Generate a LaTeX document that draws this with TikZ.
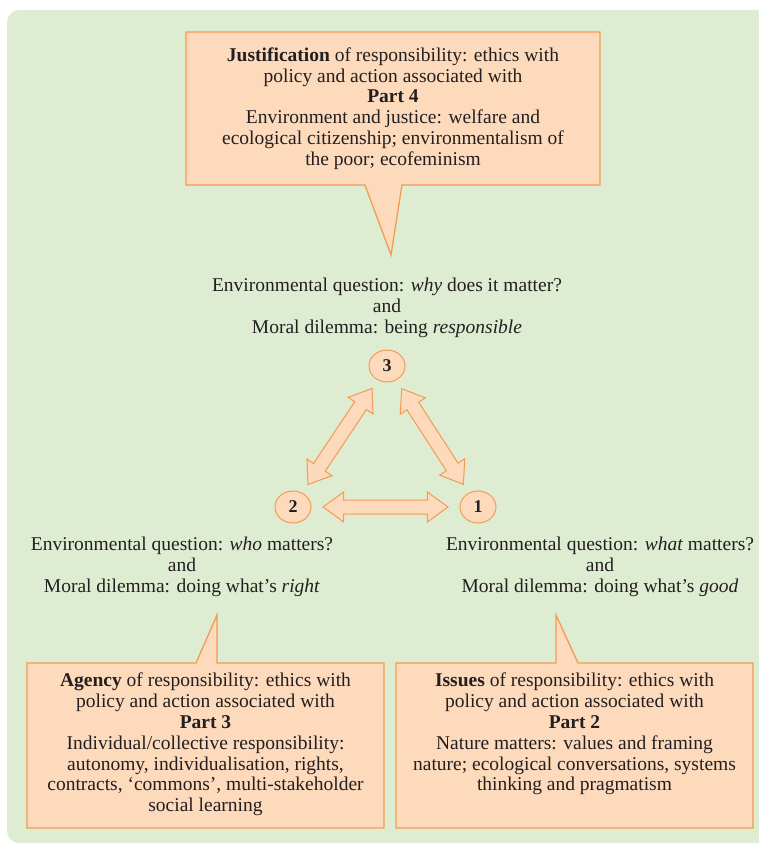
\documentclass[tikz,border=0pt]{standalone}
\usepackage{fontspec}
\setmainfont{Liberation Serif}
\usepackage{tikz}
\usetikzlibrary{shapes,shapes.arrows,calc,positioning}
\usepackage{xcolor}
\definecolor{bggreen}{RGB}{222,237,210}
\definecolor{peach}{RGB}{253,218,188}
\definecolor{peachline}{RGB}{243,155,85}
\definecolor{inkgray}{RGB}{35,31,32}
\tikzstyle{callout} = [draw=peachline, fill=peach, line width=1.3pt, line join=miter]
\tikzstyle{parttext} = [align=center, inner sep=0pt, text=inkgray, font=\fontsize{19.5}{20.8}\selectfont]
\tikzstyle{question} = [parttext]
\tikzstyle{num} = [ellipse, draw=peachline, fill=peach, line width=1pt, minimum width=36pt, minimum height=32pt, inner sep=0pt, text=inkgray, font=\fontsize{18}{18}\selectfont\bfseries]
\tikzstyle{dblarrow} = [double arrow, draw=peachline, fill=peach, line width=1pt, inner sep=6.5pt, double arrow head extend=8pt, double arrow tip angle=72]

\begin{document}
\begin{tikzpicture}[x=1pt,y=-1pt]
\useasboundingbox (0,0) rectangle (759,845);
% Background panel
\begin{scope}
\clip (0,0) rectangle (759,845);
\fill[bggreen, rounded corners=12pt] (7,10) rectangle (800,843);
\end{scope}

% Part 4 callout
\coordinate (tip4) at (391,255);
\draw[callout] (186,32) -- (600,32) -- (600,185) -- (402,185) -- (tip4) -- (365,185) -- (186,185) -- cycle;
\node[parttext] (part4) at (393,108.5) {\textbf{Justification} of responsibility: ethics with\\
policy and action associated with\\
\textbf{Part 4}\\
Environment and justice: welfare and\\
ecological citizenship; environmentalism of\\
the poor; ecofeminism};

% Questions
\node[question] (q3) at (387,308) {Environmental question: \textit{why} does it matter?\\
and\\
Moral dilemma: being \textit{responsible}};
\node[question] (q2) at (182,567) {Environmental question: \textit{who} matters?\\
and\\
Moral dilemma: doing what’s \textit{right}};
\node[question] (q1) at (600,567) {Environmental question: \textit{what} matters?\\
and\\
Moral dilemma: doing what’s \textit{good}};

% Numbered circles
\node[num] (n3) at (387,366) {3};
\node[num] (n2) at (293,507) {2};
\node[num] (n1) at (478,507) {1};

% Double arrows
\path let \p1=($(n3)-(n2)$), \n1={veclen(\x1,\y1)}, \n2={atan2(\y1,\x1)} in
  node[dblarrow, minimum height=\n1-54pt, rotate=\n2] (a23) at ($(n2)!0.5!(n3)$) {};
\path let \p1=($(n1)-(n3)$), \n1={veclen(\x1,\y1)}, \n2={atan2(\y1,\x1)} in
  node[dblarrow, minimum height=\n1-54pt, rotate=\n2] (a31) at ($(n3)!0.5!(n1)$) {};
\path let \p1=($(n1)-(n2)$), \n1={veclen(\x1,\y1)} in
  node[dblarrow, minimum height=\n1-60pt] (a21) at ($(n2)!0.5!(n1)$) {};

% Part 3 callout
\coordinate (tip3) at (217,615);
\draw[callout] (27,663) -- (196,663) -- (tip3) -- (217,663) -- (384,663) -- (384,828) -- (27,828) -- cycle;
\node[parttext] (part3) at (205.5,744.5) {\textbf{Agency} of responsibility: ethics with\\
policy and action associated with\\
\textbf{Part 3}\\
Individual/collective responsibility:\\
autonomy, individualisation, rights,\\
contracts, ‘commons’, multi-stakeholder\\
social learning};

% Part 2 callout
\coordinate (tip2) at (556,615);
\draw[callout] (396,663) -- (tip2 |- 0,663) -- (tip2) -- (578,663) -- (753,663) -- (753,828) -- (396,828) -- cycle;
\node[parttext, anchor=north] (part2) at (574.5,673) {\textbf{Issues} of responsibility: ethics with\\
policy and action associated with\\
\textbf{Part 2}\\
Nature matters: values and framing\\
nature; ecological conversations, systems\\
thinking and pragmatism};
\end{tikzpicture}
\end{document}
